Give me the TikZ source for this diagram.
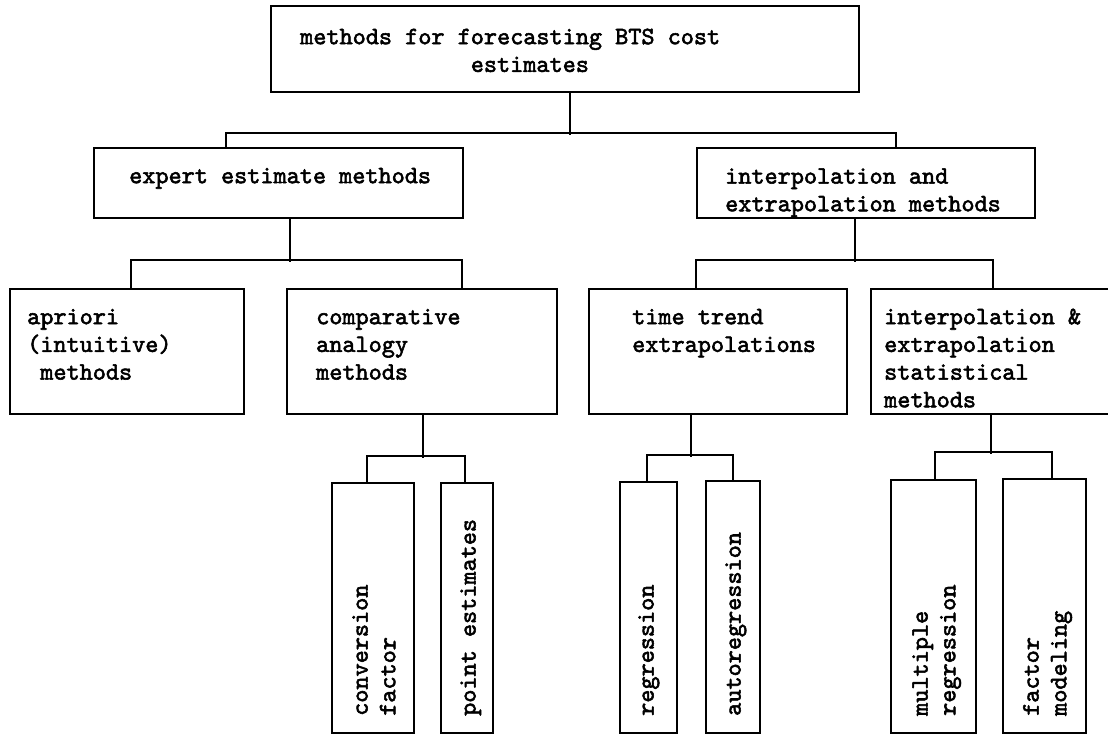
\documentclass[tikz,border=0pt]{standalone}
\usepackage{fontspec}
\newfontfamily\twfont{lmmono10-regular.otf}[FakeBold=2.2]
\usetikzlibrary{fit,calc}
\tikzset{
  box/.style={draw, line width=1.8pt, inner sep=0pt, rectangle},
  txt/.style={inner sep=0pt, anchor=north west, align=left, font=\twfont\fontsize{25}{27.7}\selectfont},
  vtxt/.style={txt, rotate=90},
  conn/.style={line width=1.8pt},
}
\begin{document}
\begin{tikzpicture}[x=1pt,y=-1pt]
\fill[white] (0,0) rectangle (1108,735);
\useasboundingbox (0,0) rectangle (1108,735);

% boxes
\node[box, fit={(271,6) (859,92)}] (top) {};
\node[box, fit={(94,148) (463,218)}] (expert) {};
\node[box, fit={(697,148) (1035,218)}] (interp) {};
\node[box, fit={(10,289) (244,414)}] (apriori) {};
\node[box, fit={(287,289) (557,414)}] (compar) {};
\node[box, fit={(589,289) (847,414)}] (ttrend) {};
\node[box, fit={(871,289) (1125,414)}] (stat) {};
\node[box, fit={(332,483) (414,733)}] (conv) {};
\node[box, fit={(441,483) (493,733)}] (point) {};
\node[box, fit={(620,482) (677,733)}] (regr) {};
\node[box, fit={(706,481) (760,733)}] (autor) {};
\node[box, fit={(891,480) (976,733)}] (multr) {};
\node[box, fit={(1003,479) (1086,733)}] (factm) {};

% texts
\node[txt] (ttop) at (300,24.6) {\strut methods for forecasting BTS cost\\\hspace*{6.825em}estimates};
\node[txt] (texpert) at (129,163.6) {\strut expert estimate methods};
\node[txt] (tinterp) at (725,164) {\strut interpolation and\\extrapolation methods};
\node[txt] (tapriori) at (27,304.6) {\strut apriori\\(intuitive)\\\hspace*{0.525em}methods};
\node[txt] (tcompar) at (316,304.6) {\strut comparative\\analogy\\methods};
\node[txt] (tttrend) at (632,304.6) {\strut time trend\\extrapolations};
\node[txt] (tstat) at (884,304.6) {\strut interpolation \&\\extrapolation\\statistical\\methods};

\node[vtxt] (tconv) at (348,716) {\strut conversion\\factor};
\node[vtxt] (tpoint) at (456,716) {\strut point estimates};
\node[vtxt] (tregr) at (634,716) {\strut regression};
\node[vtxt] (tautor) at (721,716) {\strut autoregression};
\node[vtxt] (tmultr) at (908,716) {\strut multiple\\regression};
\node[vtxt] (tfactm) at (1019,716) {\strut factor\\modeling};

% connectors
\draw[conn] ($(top.south west)+(300,0)$) -- ++(0,42);
\draw[conn] ($(expert.north west)+(133,0)$) -- ++(0,-14) -| ($(interp.north west)+(200,0)$);

\draw[conn] ($(expert.south west)+(197,0)$) -- ++(0,43);
\draw[conn] ($(apriori.north west)+(122,0)$) -- ++(0,-28) -| ($(compar.north west)+(176,0)$);

\draw[conn] ($(interp.south west)+(159,0)$) -- ++(0,43);
\draw[conn] ($(ttrend.north west)+(108,0)$) -- ++(0,-28) -| ($(stat.north west)+(123,0)$);

\draw[conn] ($(compar.south west)+(137,0)$) -- ++(0,43);
\draw[conn] ($(conv.north west)+(36,0)$) -- ++(0,-26) -| ($(point.north west)+(25,0)$);

\draw[conn] ($(ttrend.south west)+(103,0)$) -- ++(0,42);
\draw[conn] ($(regr.north west)+(28,0)$) -- ++(0,-26) -| ($(autor.north west)+(28,0)$);

\draw[conn] ($(stat.south west)+(121,0)$) -- ++(0,39);
\draw[conn] ($(multr.north west)+(45,0)$) -- ++(0,-27) -| ($(factm.north west)+(50,0)$);
\end{tikzpicture}
\end{document}
